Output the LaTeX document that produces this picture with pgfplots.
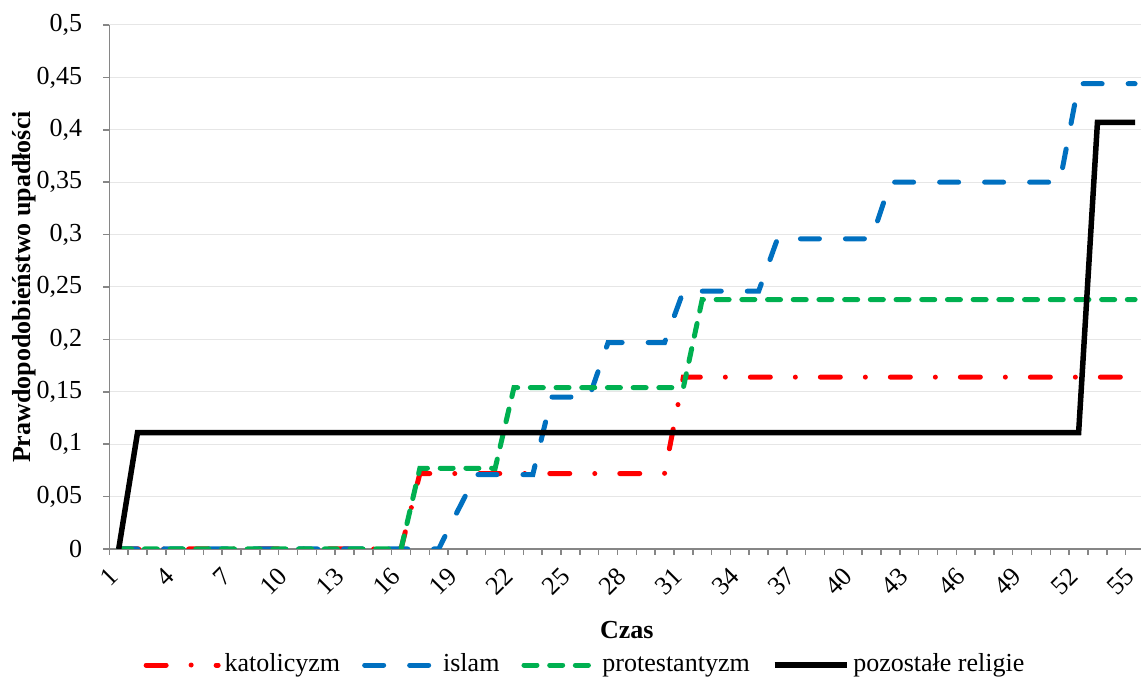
\documentclass[border=0pt]{standalone}
\usepackage{fontspec}
\setmainfont{Liberation Serif}
\usepackage{pgfplots}
\usepackage{pgfplotstable}
\pgfplotsset{compat=1.18}
\definecolor{kat}{HTML}{FF0000}
\definecolor{isl}{HTML}{0070C0}
\definecolor{pro}{HTML}{00B050}
\definecolor{axg}{HTML}{868686}
\definecolor{grd}{HTML}{E6E6E6}

\pgfplotstableread{
x kat isl pro poz
1 0 0 0 0
2 0 0 0 0.111
3 0 0 0 0.111
4 0 0 0 0.111
5 0 0 0 0.111
6 0 0 0 0.111
7 0 0 0 0.111
8 0 0 0 0.111
9 0 0 0 0.111
10 0 0 0 0.111
11 0 0 0 0.111
12 0 0 0 0.111
13 0 0 0 0.111
14 0 0 0 0.111
15 0 0 0 0.111
16 0 0 0 0.111
17 0.072 0 0.077 0.111
18 0.072 0 0.077 0.111
19 0.072 0.036 0.077 0.111
20 0.072 0.071 0.077 0.111
21 0.072 0.071 0.077 0.111
22 0.072 0.071 0.154 0.111
23 0.072 0.071 0.154 0.111
24 0.072 0.145 0.154 0.111
25 0.072 0.145 0.154 0.111
26 0.072 0.145 0.154 0.111
27 0.072 0.197 0.154 0.111
28 0.072 0.197 0.154 0.111
29 0.072 0.197 0.154 0.111
30 0.072 0.197 0.154 0.111
31 0.164 0.246 0.154 0.111
32 0.164 0.246 0.238 0.111
33 0.164 0.246 0.238 0.111
34 0.164 0.246 0.238 0.111
35 0.164 0.246 0.238 0.111
36 0.164 0.296 0.238 0.111
37 0.164 0.296 0.238 0.111
38 0.164 0.296 0.238 0.111
39 0.164 0.296 0.238 0.111
40 0.164 0.296 0.238 0.111
41 0.164 0.296 0.238 0.111
42 0.164 0.35 0.238 0.111
43 0.164 0.35 0.238 0.111
44 0.164 0.35 0.238 0.111
45 0.164 0.35 0.238 0.111
46 0.164 0.35 0.238 0.111
47 0.164 0.35 0.238 0.111
48 0.164 0.35 0.238 0.111
49 0.164 0.35 0.238 0.111
50 0.164 0.35 0.238 0.111
51 0.164 0.35 0.238 0.111
52 0.164 0.444 0.238 0.111
53 0.164 0.444 0.238 0.407
54 0.164 0.444 0.238 0.407
55 0.164 0.444 0.238 0.407
}\datatable

\begin{document}
\fontsize{13pt}{15.6pt}\selectfont
\begin{tikzpicture}
\begin{axis}[
  name=ax,
  scale only axis, width=517.6pt, height=262pt,
  xmin=0.5, xmax=55.5, ymin=0, ymax=0.5,
  axis lines=left,
  axis line style={-, draw=axg, line width=0.75pt},
  tick align=outside, major tick length=3pt,
  xtick={1,4,...,55},
  xticklabels={1,4,7,10,13,16,19,22,25,28,31,34,37,40,43,46,49,52,55},
  xtick style={draw=none},
  extra x ticks={0.5,1.5,...,55.5},
  extra x tick labels={},
  extra x tick style={xtick style={draw=axg, line width=0.75pt}, grid=none,
    xticklabel style={inner sep=0pt, rotate=0}},
  ytick={0,0.05,0.1,0.15,0.2,0.25,0.3,0.35,0.4,0.45,0.5},
  yticklabels={0,{0,05},{0,1},{0,15},{0,2},{0,25},{0,3},{0,35},{0,4},{0,45},{0,5}},
  ytick style={draw=axg, line width=0.75pt},
  ymajorgrids, grid style={grd, line width=0.5pt},
  xticklabel shift=6pt,
  xticklabel style={rotate=45, anchor=east, xshift=-3pt, inner sep=0.5pt, font=\fontsize{13pt}{15.6pt}\selectfont},
  yticklabel style={xshift=-6pt, font=\fontsize{13pt}{15.6pt}\selectfont},
  xlabel={\textbf{Czas}},
  ylabel={\textbf{Prawdopodobieństwo upadłości}},
  xlabel style={at={(axis description cs:0.5,-0.155)}, anchor=center},
  ylabel style={at={(axis description cs:-0.082,0.5)}, anchor=center},
  legend style={at={(axis description cs:0.4605,-0.2214)}, anchor=center,
    draw=none, fill=none, legend columns=4,
    nodes={text height=1.6ex, text depth=0.45ex},
    /tikz/every even column/.append style={column sep=9pt}},
  legend image code/.code={\draw[#1] (0pt,0pt) -- (36pt,0pt);},
]
\addplot[kat, line width=2.5pt, line cap=round, dash pattern=on 10pt off 12.5pt on 0pt off 12.5pt] table[x=x,y=kat] {\datatable};
\addlegendentry{katolicyzm}
\addplot[isl, line width=2.5pt, line cap=round, dash pattern=on 9.5pt off 13pt] table[x=x,y=isl] {\datatable};
\addlegendentry{islam}
\addplot[pro, line width=2.5pt, line cap=round, dash pattern=on 6.5pt off 6.35pt] table[x=x,y=pro] {\datatable};
\addlegendentry{protestantyzm}
\addplot[black, line width=2.75pt] table[x=x,y=poz] {\datatable};
\addlegendentry{pozostałe religie}
\end{axis}
\pgfresetboundingbox
\path ([shift={(-54.65pt,-66.5pt)}]ax.south west) rectangle ([shift={(-1.75pt,12.5pt)}]ax.north east);
\end{tikzpicture}
\end{document}
